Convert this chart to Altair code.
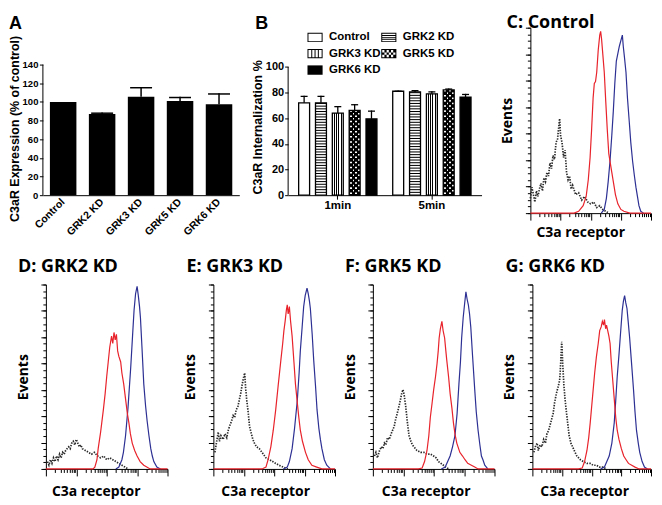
import altair as alt
import numpy as np
import pandas as pd

ARIAL = "Liberation Sans"
CAL = "Open Sans"
RED = "#e8232b"
BLUE = "#2d3093"
ISO = "#2a2a2a"

# ---------------- Panel A data ----------------
a_groups = ["Control", "GRK2 KD", "GRK3 KD", "GRK5  KD", "GRK6 KD"]
a_values = [100, 87, 105.5, 101, 97.6]
a_err = [0, 1.7, 10.5, 4.5, 11.7]
a_ticks = [0, 20, 40, 60, 80, 100, 120, 140]

# ---------------- Panel B data ----------------
b_times = ["1min", "5min"]
b_groups = ["Control", "GRK2 KD", "GRK3 KD", "GRK5 KD", "GRK6 KD"]
b_legend_order = ["Control", "GRK3 KD", "GRK6 KD", "GRK2 KD", "GRK5 KD"]
b_1min = [72, 72, 64, 66, 59.5]
b_1min_err = [5.5, 5.5, 5.5, 5, 6.5]
b_5min = [81, 80.5, 79, 82, 76.5]
b_5min_err = [0.5, 1.5, 2, 1.2, 2.5]
b_ticks = [0, 20, 40, 60, 80, 100]

# ---------------- Histogram data (x in log decades, y in % of axis) ----------------
c_iso_x = [0.0, 0.05, 0.1, 0.15, 0.2, 0.25, 0.3, 0.35, 0.4, 0.45, 0.5, 0.55, 0.6, 0.65, 0.7, 0.75, 0.8, 0.85, 0.9, 0.95,
           0.97, 1.0, 1.05, 1.1, 1.15, 1.2, 1.25, 1.3, 1.35, 1.4, 1.5, 1.6, 1.7, 1.8, 1.9, 2.0, 2.1, 2.2, 2.3, 2.4, 2.5, 2.6]
c_iso_y = [8, 14, 10, 6, 12, 9, 13, 16, 12, 19, 17, 22, 20, 27, 24, 31, 29, 38, 40, 48,
           51, 42, 38, 30, 34, 22, 18, 20, 13, 15, 10, 11, 7, 9, 6, 5, 6, 3, 4, 2, 1, 0]
c_red_x = [0, 1.45, 1.6, 1.75, 1.85, 1.92, 1.98, 2.03, 2.08, 2.12, 2.16, 2.2, 2.25, 2.3, 2.33, 2.36, 2.4, 2.45, 2.5, 2.55,
           2.6, 2.65, 2.7, 2.75, 2.82, 2.9, 3.0, 3.1, 3.3, 4.0]
c_red_y = [0, 0, 1, 4, 9, 18, 30, 45, 62, 70, 71, 76, 88, 96, 98, 94, 86, 76, 60, 45,
           32, 27, 22, 17, 10, 5, 2, 1, 0, 0]
c_blue_x = [2.35, 2.45, 2.52, 2.58, 2.64, 2.7, 2.75, 2.8, 2.85, 2.9, 2.95, 3.0, 3.05, 3.08, 3.12, 3.17, 3.22, 3.28, 3.33,
            3.39, 3.45, 3.5, 3.55, 3.6, 3.66, 3.75]
c_blue_y = [0, 2, 8, 17, 28, 42, 55, 70, 82, 86, 90, 93, 96, 90, 84, 76, 62, 49, 38, 28, 20, 14, 9, 4, 1, 0]

d_iso_x = [0.05, 0.1, 0.15, 0.2, 0.25, 0.3, 0.35, 0.4, 0.45, 0.5, 0.55, 0.6, 0.65, 0.7, 0.75, 0.8, 0.85, 0.9, 0.95, 1.0,
           1.05, 1.1, 1.15, 1.2, 1.3, 1.4, 1.5, 1.6, 1.7, 1.8, 1.9, 2.0, 2.1, 2.2, 2.3, 2.4, 2.5, 2.6, 2.7]
d_iso_y = [4, 2, 5, 3, 6, 4, 7, 5, 8, 6, 9, 8, 10, 11, 12, 11, 14, 15, 13, 16,
           14, 12, 13, 11, 10, 9, 8, 9, 7, 6, 7, 5, 6, 5, 4, 3, 2, 1, 0]
d_red_x = [0, 1.55, 1.61, 1.68, 1.72, 1.8, 1.89, 1.95, 2.0, 2.05, 2.1, 2.16, 2.2, 2.24, 2.28, 2.32, 2.36, 2.4, 2.46, 2.5,
           2.56, 2.62, 2.68, 2.73, 2.78, 2.84, 2.92, 3.0, 3.1, 3.22, 3.43, 4.0]
d_red_y = [0, 0, 1, 5, 11, 20, 32, 41, 50, 58, 66, 72, 68, 74, 70, 73, 64, 61, 58, 52,
           46, 38, 30, 25, 19, 14, 10, 7, 4, 2, 0, 0]
d_blue_x = [2.3, 2.4, 2.5, 2.55, 2.62, 2.7, 2.79, 2.85, 2.9, 2.95, 3.0, 3.04, 3.08, 3.11, 3.16, 3.22, 3.28, 3.33, 3.39,
            3.45, 3.5, 3.55, 3.65, 3.77]
d_blue_y = [0, 1, 5, 9, 18, 33, 55, 72, 86, 95, 99, 94, 88, 82, 66, 46, 34, 26, 18, 11, 7, 4, 1, 0]

e_iso_x = [0.05, 0.1, 0.16, 0.2, 0.25, 0.32, 0.38, 0.44, 0.49, 0.55, 0.6, 0.65, 0.7, 0.75, 0.81, 0.86, 0.9, 0.95, 1.0,
           1.03, 1.06, 1.1, 1.15, 1.19, 1.25, 1.3, 1.35, 1.42, 1.51, 1.6, 1.73, 1.85, 1.95, 2.05, 2.16, 2.3, 2.45]
e_iso_y = [9, 14, 20, 15, 18, 16, 19, 17, 21, 24, 26, 29, 28, 32, 34, 38, 41, 46, 50,
           52, 44, 37, 30, 23, 19, 16, 14, 12, 11, 9, 6, 5, 4, 3, 2, 1, 0]
e_red_x = [0, 1.6, 1.73, 1.8, 1.89, 1.97, 2.05, 2.13, 2.22, 2.28, 2.32, 2.36, 2.4, 2.43, 2.46, 2.5, 2.54, 2.59, 2.65,
           2.7, 2.76, 2.81, 2.86, 2.93, 3.03, 3.12, 3.24, 3.4, 3.57, 4.0]
e_red_y = [0, 0, 1, 5, 12, 21, 32, 45, 59, 68, 75, 80, 86, 89, 84, 88, 80, 72, 58,
           46, 36, 28, 21, 15, 9, 5, 2, 1, 0, 0]
e_blue_x = [2.3, 2.43, 2.5, 2.59, 2.67, 2.76, 2.82, 2.86, 2.92, 2.97, 3.02, 3.08, 3.12, 3.16, 3.19, 3.25, 3.3, 3.36,
            3.41, 3.47, 3.52, 3.57, 3.65, 3.73, 3.85]
e_blue_y = [0, 1, 4, 11, 22, 37, 52, 64, 77, 88, 94, 98, 95, 91, 87, 73, 59, 45, 32, 22, 16, 11, 5, 2, 0]

f_iso_x = [0.05, 0.1, 0.15, 0.22, 0.28, 0.33, 0.38, 0.43, 0.48, 0.54, 0.6, 0.65, 0.7, 0.75, 0.8, 0.86, 0.9, 0.95, 0.99,
           1.03, 1.08, 1.13, 1.19, 1.25, 1.3, 1.35, 1.45, 1.57, 1.68, 1.78, 1.9, 2.0, 2.08, 2.16, 2.24, 2.32, 2.4, 2.49]
f_iso_y = [7, 9, 6, 10, 12, 11, 14, 13, 17, 16, 19, 21, 23, 27, 30, 34, 37, 41, 43,
           40, 34, 26, 18, 15, 13, 12, 10, 9, 9, 8, 8, 7, 6, 4, 3, 2, 1, 0]
f_red_x = [0, 1.5, 1.62, 1.7, 1.78, 1.84, 1.89, 1.95, 2.0, 2.06, 2.11, 2.15, 2.18, 2.22, 2.27, 2.31, 2.36, 2.4, 2.43,
           2.49, 2.54, 2.6, 2.65, 2.7, 2.76, 2.82, 2.86, 2.95, 3.03, 3.12, 3.24, 3.35, 3.46, 4.0]
f_red_y = [0, 0, 0.5, 4, 10, 18, 28, 36, 43, 50, 57, 64, 71, 76, 80, 75, 71, 64, 59,
           50, 41, 33, 25, 19, 14, 11, 9, 7, 5, 3, 2, 1, 0, 0]
f_blue_x = [2.25, 2.38, 2.46, 2.54, 2.62, 2.7, 2.77, 2.83, 2.88, 2.92, 2.97, 3.02, 3.06, 3.1, 3.14, 3.18, 3.22, 3.28,
            3.35, 3.4, 3.46, 3.52, 3.57, 3.62, 3.68, 3.78]
f_blue_y = [0, 1, 4, 7, 12, 18, 30, 46, 58, 71, 82, 90, 96, 92, 89, 84, 77, 61, 43, 31, 21, 13, 7, 5, 2, 0]

g_iso_x = [0.05, 0.1, 0.16, 0.2, 0.26, 0.32, 0.38, 0.44, 0.49, 0.55, 0.6, 0.65, 0.7, 0.75, 0.81, 0.86, 0.92, 0.95, 0.99,
           1.02, 1.06, 1.1, 1.14, 1.19, 1.24, 1.3, 1.41, 1.5, 1.62, 1.72, 1.84, 1.95, 2.05, 2.16, 2.27, 2.38, 2.49]
g_iso_y = [9, 12, 14, 10, 13, 12, 16, 14, 19, 21, 24, 27, 30, 36, 41, 44, 48, 56, 69,
           58, 46, 38, 32, 25, 18, 14, 10, 7, 5, 4, 3, 3, 2, 2, 1, 1, 0]
g_red_x = [0, 1.55, 1.68, 1.76, 1.84, 1.9, 1.95, 2.0, 2.05, 2.1, 2.16, 2.22, 2.27, 2.32, 2.36, 2.4, 2.43, 2.47, 2.5,
           2.54, 2.58, 2.62, 2.66, 2.7, 2.76, 2.81, 2.86, 2.92, 3.0, 3.08, 3.16, 3.24, 3.35, 3.46, 3.6, 4.0]
g_red_y = [0, 0, 0.5, 4, 10, 17, 25, 34, 43, 52, 61, 68, 75, 77, 80, 78, 81, 76, 78,
           75, 72, 68, 58, 50, 38, 28, 21, 16, 11, 7, 5, 3, 2, 1, 0, 0]
g_blue_x = [2.3, 2.43, 2.51, 2.59, 2.68, 2.76, 2.81, 2.86, 2.92, 2.97, 3.03, 3.07, 3.11, 3.15, 3.19, 3.23, 3.28, 3.35,
            3.41, 3.46, 3.51, 3.57, 3.62, 3.7, 3.78, 3.88]
g_blue_y = [0, 1, 4, 7, 14, 25, 37, 50, 62, 73, 86, 91, 94, 90, 87, 80, 71, 56, 43, 31, 21, 14, 9, 4, 1, 0]

hist_decades = [0, 1, 2, 3, 4]
hist_minor = [d + float(np.log10(k)) for d in range(4) for k in range(2, 10)]
hist_y_major = [i * 100 / 7 for i in range(8)]
hist_y_minor = [i * 100 / 28 for i in range(29)]


def spacer(w, h=1):
    return alt.Chart(pd.DataFrame({"z": [0]})).mark_point(opacity=0).encode(
        x=alt.value(0), y=alt.value(0)).properties(width=w, height=h)


def panel_title(text, dx, font, size, offset=0, dy=0):
    return alt.Title(text, anchor="start", frame="group", dx=dx, dy=dy, offset=offset, baseline="top",
                     font=font, fontSize=size, fontWeight="bold", color="black")


# ---------------- Panel A ----------------
dfA = pd.DataFrame({"group": a_groups, "value": a_values, "err": a_err})
dfA["top"] = dfA["value"] + dfA["err"]
dfA["cap"] = dfA["top"] - 1.6
A_H = 168
A_YMAX = 140 * A_H / 131
xA_scale = alt.Scale(domain=a_groups, paddingInner=0.32, paddingOuter=0.18)
yA_scale = alt.Scale(domain=[0, A_YMAX], nice=False)

barsA = alt.Chart(dfA).mark_bar(color="black").encode(
    x=alt.X("group:N", scale=xA_scale, axis=alt.Axis(
        orient="bottom", title=None, labelAngle=315, labelAlign="right", labelBaseline="middle", ticks=False,
        labelPadding=5, labelFont=ARIAL, labelFontSize=10.5, labelFontWeight="bold", domainColor="black")),
    y=alt.Y("value:Q", scale=yA_scale, axis=alt.Axis(
        orient="left", values=a_ticks, title="C3aR Expression (% of control)", domain=False, tickSize=3.5,
        labelPadding=1.5, labelFont=ARIAL, labelFontSize=9.5, labelFontWeight="bold", titleFont=ARIAL,
        titleFontSize=12.5, titleFontWeight="bold", titlePadding=0.5, titleY=101)))
errA = alt.Chart(dfA).transform_filter("datum.err > 0").mark_rule(color="black", strokeWidth=1.5).encode(
    x=alt.X("group:N", scale=xA_scale, axis=None),
    y=alt.Y("value:Q", scale=yA_scale, axis=None), y2="top:Q")
capA = alt.Chart(dfA).transform_filter("datum.err > 0").mark_bar(color="black", width=22).encode(
    x=alt.X("group:N", scale=xA_scale, axis=None),
    y=alt.Y("cap:Q", scale=yA_scale, axis=None), y2="top:Q")
axA = alt.Chart(pd.DataFrame({"y0": [a_ticks[0]], "y1": [a_ticks[-1]]})).mark_rule(color="black").encode(
    x=alt.value(0), y=alt.Y("y0:Q", scale=yA_scale, axis=None), y2="y1:Q")
chartA = alt.layer(barsA, errA, capA, axA).resolve_axis(x="independent", y="independent").properties(
    width=197, height=A_H, title=panel_title("A", -34, ARIAL, 18, dy=5))

# ---------------- Panel B ----------------
rows = []
for t, vals, errs in [("1min", b_1min, b_1min_err), ("5min", b_5min, b_5min_err)]:
    for g, v, e in zip(b_groups, vals, errs):
        rows.append(dict(time=t, group=g, value=v, top=v + e, cap=v + e - 1.0))
dfB = pd.DataFrame(rows)

stripe_rows, dot_rows = [], []
for r in dfB.itertuples():
    if r.group == "GRK2 KD":
        for lv in np.arange(1.8, r.value - 0.6, 2.1):
            stripe_rows.append(dict(time=r.time, group=r.group, y0=lv, y1=lv + 0.8))
    if r.group == "GRK5 KD":
        for k, lv in enumerate(np.arange(0.9, r.value - 1.0, 2.0)):
            dot_rows.append(dict(time=r.time, group=r.group, y0=lv, y1=lv + 1.2, phase=k % 2))
dfStripe = pd.DataFrame(stripe_rows)
dfDots = pd.DataFrame(dot_rows)

B_H = 168
B_YMAX = B_H / 1.287
xB_scale = alt.Scale(domain=b_times, paddingInner=0.12, paddingOuter=0.088)
xoB_scale = alt.Scale(domain=b_groups, paddingInner=0.35, paddingOuter=0.133)
yB_scale = alt.Scale(domain=[0, B_YMAX], nice=False)
xB = alt.X("time:N", scale=xB_scale, axis=None)
xoB = alt.XOffset("group:N", scale=xoB_scale)


def yB(field):
    return alt.Y(f"{field}:Q", scale=yB_scale, axis=None)


def stripes_gradient(centers, width, on, off):
    stops = [alt.GradientStop(offset=0, color=off)]
    for c in centers:
        a, b = c - width / 2, c + width / 2
        stops += [alt.GradientStop(offset=a, color=off), alt.GradientStop(offset=a, color=on),
                  alt.GradientStop(offset=b, color=on), alt.GradientStop(offset=b, color=off)]
    stops.append(alt.GradientStop(offset=1, color=off))
    return alt.LinearGradient(gradient="linear", stops=stops, x1=0, x2=1, y1=0, y2=0)


vgrad = stripes_gradient([0.2, 0.4, 0.6, 0.8], 0.09, "black", "white")
CLEAR = "rgba(0,0,0,0)"
dotA = stripes_gradient([0.14, 0.64], 0.16, "white", CLEAR)
dotB = stripes_gradient([0.39, 0.89], 0.16, "white", CLEAR)

barsB_white = alt.Chart(dfB).transform_filter(
    "datum.group == 'Control' || datum.group == 'GRK2 KD'").mark_bar(fill="white").encode(
    x=alt.X("time:N", scale=xB_scale, axis=alt.Axis(
        orient="bottom", title=None, labelAngle=0, tickSize=4, labelPadding=0, labelFont=ARIAL,
        labelFontSize=11.5, labelFontWeight="bold", domainColor="black")),
    xOffset=xoB,
    y=alt.Y("value:Q", scale=yB_scale, axis=alt.Axis(
        orient="left", values=b_ticks, title="C3aR Internalization %", domain=False, tickSize=3.5,
        labelPadding=1, labelFont=ARIAL, labelFontSize=11, labelFontWeight="bold", titleFont=ARIAL,
        titleFontSize=12.5, titleFontWeight="bold", titlePadding=1, titleY=99.5)))
barsB_g3 = alt.Chart(dfB).transform_filter("datum.group == 'GRK3 KD'").mark_bar(fill=vgrad).encode(
    x=xB, xOffset=xoB, y=yB("value"))
barsB_black = alt.Chart(dfB).transform_filter(
    "datum.group == 'GRK5 KD' || datum.group == 'GRK6 KD'").mark_bar(fill="black").encode(
    x=xB, xOffset=xoB, y=yB("value"))
stripesB = alt.Chart(dfStripe).mark_bar(fill="black").encode(x=xB, xOffset=xoB, y=yB("y0"), y2="y1:Q")
dotsB1 = alt.Chart(dfDots).transform_filter("datum.phase == 0").mark_bar(fill=dotA).encode(
    x=xB, xOffset=xoB, y=yB("y0"), y2="y1:Q")
dotsB2 = alt.Chart(dfDots).transform_filter("datum.phase == 1").mark_bar(fill=dotB).encode(
    x=xB, xOffset=xoB, y=yB("y0"), y2="y1:Q")
outlineB = alt.Chart(dfB).mark_bar(filled=False, color="black", strokeWidth=1.3).encode(
    x=xB, xOffset=xoB, y=yB("value"))
stemB = alt.Chart(dfB).mark_bar(color="black", width=1.3).encode(x=xB, xOffset=xoB, y=yB("value"), y2="top:Q")
capB = alt.Chart(dfB).mark_bar(color="black", width=7).encode(x=xB, xOffset=xoB, y=yB("cap"), y2="top:Q")


# legend symbols: black-filled paths, white parts are counter-wound holes
def rpath(x0, y0, x1, y1, cw=True):
    if cw:
        return f"M{x0:.3f},{y0:.3f}H{x1:.3f}V{y1:.3f}H{x0:.3f}Z"
    return f"M{x0:.3f},{y0:.3f}V{y1:.3f}H{x1:.3f}V{y0:.3f}Z"


SH, ST = 0.62, 0.13
outer = rpath(-1, -SH, 1, SH)
inner_hole = rpath(-1 + ST, -SH + ST, 1 - ST, SH - ST, cw=False)
sym_control = outer + inner_hole
sym_grk2 = outer + inner_hole + "".join(rpath(-1 + ST, y - 0.06, 1 - ST, y + 0.06) for y in [-0.245, 0, 0.245])
sym_grk3 = outer + inner_hole + "".join(rpath(x - 0.065, -SH + ST, x + 0.065, SH - ST) for x in [-0.435, 0, 0.435])
cw_, ch_ = (2 - 2 * ST) / 6, (2 * SH - 2 * ST) / 3
checker = ""
for i in range(6):
    for j in range(3):
        if (i + j) % 2 == 0:
            x0, y0 = -1 + ST + i * cw_, -SH + ST + j * ch_
            checker += rpath(x0, y0, x0 + cw_, y0 + ch_, cw=False)
sym_grk5 = outer + checker
sym_grk6 = outer
sym_map = {"Control": sym_control, "GRK2 KD": sym_grk2, "GRK3 KD": sym_grk3, "GRK5 KD": sym_grk5,
           "GRK6 KD": sym_grk6}
b_shapes = [sym_map[g] for g in b_legend_order]

legB = alt.Legend(title=None, orient="none", legendX=19, legendY=1.5, columns=2, symbolSize=230,
                  symbolStrokeWidth=0, symbolOpacity=1, labelFont=ARIAL,
                  labelFontSize=11.5, labelFontWeight="bold", labelColor="black", labelOffset=6,
                  columnPadding=-7, rowPadding=2.5, padding=0)
legendB = alt.Chart(dfB).mark_point(filled=True, opacity=0, color="black").encode(
    x=xB, xOffset=xoB, y=yB("value"),
    shape=alt.Shape("group:N", scale=alt.Scale(domain=b_legend_order, range=b_shapes), legend=legB))
axB = alt.Chart(pd.DataFrame({"y0": [b_ticks[0]], "y1": [b_ticks[-1]]})).mark_rule(color="black").encode(
    x=alt.value(0), y=alt.Y("y0:Q", scale=yB_scale, axis=None), y2="y1:Q")

chartB = alt.layer(barsB_white, barsB_g3, barsB_black, stripesB, dotsB1, dotsB2, outlineB, stemB, capB,
                   legendB, axB).resolve_axis(x="independent", y="independent").properties(
    width=194, height=B_H, title=panel_title("B", -33, ARIAL, 18, dy=5))


# ---------------- Histograms ----------------
def hist(title, iso_x, iso_y, red_x, red_y, blue_x, blue_y, w, h, tdx, toff, tdy, ev_pad, xt_x, xt_pad):
    xs = alt.Scale(domain=[0, 4], nice=False, zero=False)
    ys = alt.Scale(domain=[0, 100], nice=False)
    x_major = alt.Axis(orient="bottom", values=hist_decades, tickSize=7, labels=False, title="C3a receptor",
                       titleFont=CAL, titleFontSize=14, titleFontWeight="bold", titlePadding=xt_pad, titleX=xt_x,
                       domainColor="black")
    x_minor = alt.Axis(orient="bottom", values=hist_minor, tickSize=3.5, labels=False, title=None, domain=False)
    y_major = alt.Axis(orient="left", values=hist_y_major, tickSize=5, labels=False, title="Events",
                       titleFont=CAL, titleFontSize=14, titleFontWeight="bold", titlePadding=ev_pad,
                       domainColor="black")
    y_minor = alt.Axis(orient="left", values=hist_y_minor, tickSize=3, labels=False, title=None, domain=False)
    iso = pd.DataFrame({"d": iso_x, "v": iso_y})
    red = pd.DataFrame({"d": red_x, "v": red_y})
    blue = pd.DataFrame({"d": blue_x, "v": blue_y})
    l_iso = alt.Chart(iso).mark_line(color=ISO, strokeDash=[1.4, 1.3], strokeWidth=1.7).encode(
        x=alt.X("d:Q", scale=xs, axis=x_major), y=alt.Y("v:Q", scale=ys, axis=y_major))
    l_blue = alt.Chart(blue).mark_line(color=BLUE, strokeWidth=1.2).encode(
        x=alt.X("d:Q", scale=xs, axis=x_minor), y=alt.Y("v:Q", scale=ys, axis=y_minor))
    l_red = alt.Chart(red).mark_line(color=RED, strokeWidth=1.2).encode(
        x=alt.X("d:Q", scale=xs, axis=None), y=alt.Y("v:Q", scale=ys, axis=None))
    return alt.layer(l_iso, l_blue, l_red).resolve_axis(x="independent", y="independent").properties(
        width=w, height=h, title=panel_title(title, tdx, CAL, 18, offset=toff, dy=tdy))


chartC = hist("C: Control", c_iso_x, c_iso_y, c_red_x, c_red_y, c_blue_x, c_blue_y,
              121, 186, -24, 0, 5, 10, 50, 4.5)
chartD = hist("D: GRK2 KD", d_iso_x, d_iso_y, d_red_x, d_red_y, d_blue_x, d_blue_y,
              122, 185, -28, 8.4, 0, 10, 50, 8)
chartE = hist("E: GRK3 KD", e_iso_x, e_iso_y, e_red_x, e_red_y, e_blue_x, e_blue_y,
              122, 185, -27, 8.4, 0, 10, 52, 8)
chartF = hist("F: GRK5 KD", f_iso_x, f_iso_y, f_red_x, f_red_y, f_blue_x, f_blue_y,
              122, 185, -28, 8.4, 0, 10, 53, 8)
chartG = hist("G: GRK6 KD", g_iso_x, g_iso_y, g_red_x, g_red_y, g_blue_x, g_blue_y,
              119, 185, -27, 8.4, 0, 10, 52, 8)

top_row = alt.hconcat(chartA, spacer(49), chartB, spacer(49), chartC, spacing=0, bounds="flush").resolve_scale(
    shape="independent")
bottom_row = alt.hconcat(spacer(3), chartD, spacer(46), chartE, spacer(38), chartF, spacer(38), chartG,
                         spacing=0, bounds="flush")

chart = alt.vconcat(top_row, bottom_row, spacing=17.6).resolve_scale(
    shape="independent").properties(padding={"top": 5, "left": 0, "right": 0, "bottom": 0}).configure_view(
    stroke=None).configure_axis(grid=False, domainColor="black", tickColor="black", labelColor="black",
                                 titleColor="black", domainWidth=1, tickWidth=1)

chart.save("out.html", embed_options={"renderer": "svg", "actions": False})
